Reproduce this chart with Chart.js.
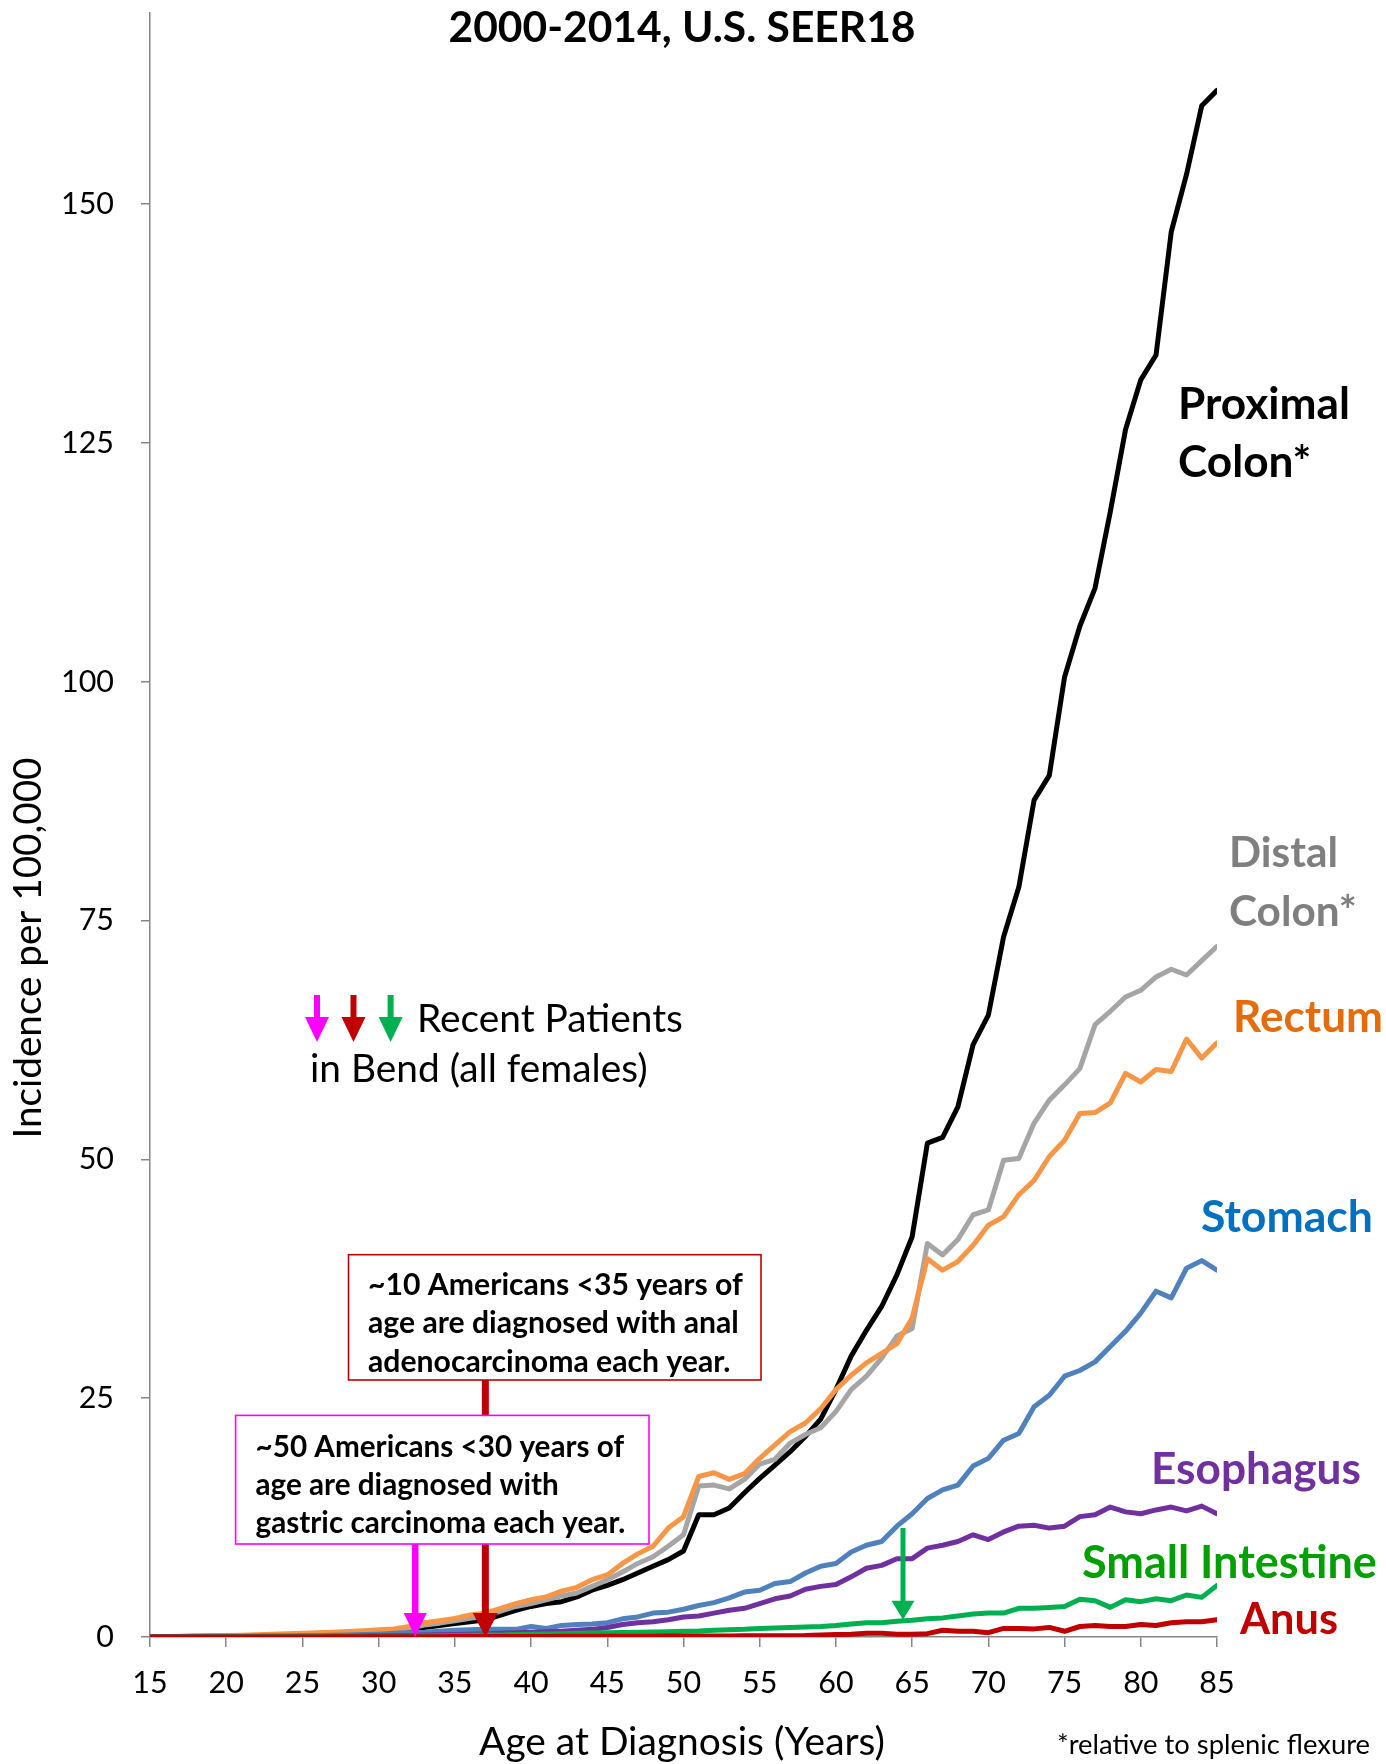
<!DOCTYPE html>
<html>
<head>
<meta charset="utf-8">
<script src="https://cdn.jsdelivr.net/npm/chart.js@4.4.1/dist/chart.umd.min.js"></script>
<style>
  html, body { margin: 0; padding: 0; background: #ffffff; }
  #wrap { width: 1386px; height: 1764px; }
</style>
</head>
<body>
<div id="wrap"><canvas id="c" width="1386" height="1764"></canvas></div>
<script>
// ---------------- DATA ----------------
const ages = [15,16,17,18,19,20,21,22,23,24,25,26,27,28,29,30,31,32,33,34,35,36,37,38,39,40,41,42,43,44,45,46,47,48,49,50,51,52,53,54,55,56,57,58,59,60,61,62,63,64,65,66,67,68,69,70,71,72,73,74,75,76,77,78,79,80,81,82,83,84,85];

const proximalColon = [0.05,0.05,0.06,0.07,0.08,0.1,0.12,0.14,0.17,0.2,0.23,0.27,0.32,0.38,0.45,0.55,0.7,0.85,1.0,1.2,1.4,1.6,1.8,2.3,2.8,3.2,3.5,3.7,4.2,4.9,5.4,6.0,6.7,7.4,8.1,9.0,12.8,12.8,13.5,15.1,16.6,18.0,19.4,21.0,22.8,25.9,29.4,32.1,34.6,37.9,41.9,51.7,52.3,55.5,62.0,65.1,73.3,78.5,87.6,90.2,100.5,105.8,109.8,117.8,126.4,131.6,134.2,147.1,153.1,160.3,161.9];

const distalColon = [0.04,0.05,0.06,0.07,0.09,0.11,0.13,0.16,0.2,0.24,0.28,0.33,0.38,0.45,0.52,0.6,0.75,0.95,1.25,1.45,1.7,1.95,2.2,2.7,3.2,3.5,3.9,4.3,4.6,5.3,6.0,6.8,7.7,8.4,9.5,10.7,15.8,15.9,15.5,16.5,18.1,18.6,20.3,21.2,21.9,23.6,25.9,27.3,29.2,31.5,32.3,41.2,40.0,41.6,44.2,44.7,49.9,50.1,53.8,56.2,57.8,59.5,64.1,65.5,67.0,67.7,69.1,69.9,69.3,70.8,72.3];

const rectum = [0.05,0.06,0.08,0.1,0.12,0.15,0.19,0.23,0.28,0.33,0.38,0.44,0.5,0.57,0.65,0.75,0.85,1.1,1.5,1.7,1.95,2.3,2.5,3.0,3.5,3.9,4.2,4.8,5.2,6.0,6.5,7.7,8.7,9.5,11.4,12.6,16.8,17.2,16.5,17.1,18.7,20.1,21.5,22.4,23.9,25.9,27.4,28.7,29.7,30.7,33.4,39.6,38.4,39.3,41.0,43.1,44.0,46.3,47.8,50.3,52.0,54.8,54.9,55.9,59.0,58.1,59.4,59.2,62.6,60.6,62.2];

const stomach = [0.03,0.04,0.05,0.06,0.07,0.08,0.09,0.1,0.12,0.13,0.15,0.17,0.19,0.22,0.25,0.3,0.38,0.45,0.5,0.6,0.7,0.75,0.8,0.8,0.8,1.1,0.9,1.2,1.3,1.35,1.5,1.9,2.1,2.5,2.6,2.9,3.3,3.6,4.1,4.7,4.9,5.6,5.8,6.7,7.4,7.7,8.9,9.6,10.0,11.6,12.9,14.5,15.4,15.9,17.9,18.7,20.6,21.3,24.1,25.3,27.3,27.9,28.8,30.4,32.0,33.9,36.2,35.5,38.6,39.4,38.4];

const esophagus = [0.01,0.01,0.01,0.01,0.02,0.02,0.02,0.03,0.03,0.04,0.05,0.06,0.07,0.08,0.1,0.12,0.14,0.17,0.2,0.23,0.27,0.3,0.35,0.4,0.45,0.5,0.55,0.6,0.7,0.8,1.0,1.3,1.5,1.6,1.8,2.1,2.2,2.5,2.8,3.0,3.5,4.0,4.3,5.0,5.3,5.5,6.3,7.2,7.5,8.2,8.2,9.3,9.6,10.0,10.7,10.2,11.0,11.6,11.7,11.4,11.6,12.6,12.8,13.6,13.1,12.9,13.3,13.6,13.2,13.7,12.9];

const smallIntestine = [0.01,0.01,0.01,0.01,0.02,0.02,0.02,0.02,0.03,0.03,0.03,0.03,0.04,0.04,0.05,0.05,0.06,0.08,0.1,0.12,0.15,0.18,0.2,0.22,0.25,0.3,0.32,0.35,0.38,0.42,0.45,0.48,0.5,0.53,0.56,0.6,0.62,0.7,0.75,0.8,0.9,0.95,1.0,1.05,1.1,1.2,1.35,1.5,1.5,1.65,1.75,1.9,2.0,2.2,2.4,2.5,2.5,3.0,3.0,3.1,3.2,3.95,3.8,3.1,3.9,3.7,4.0,3.8,4.4,4.15,5.4];

const anus = [0.0,0.0,0.0,0.0,0.0,0.0,0.01,0.01,0.01,0.01,0.01,0.01,0.02,0.02,0.02,0.02,0.02,0.03,0.03,0.03,0.04,0.04,0.05,0.05,0.05,0.06,0.06,0.07,0.07,0.08,0.08,0.08,0.09,0.09,0.1,0.1,0.1,0.11,0.11,0.12,0.12,0.13,0.14,0.15,0.2,0.25,0.3,0.4,0.4,0.3,0.3,0.35,0.7,0.6,0.6,0.45,0.9,0.9,0.85,1.0,0.6,1.1,1.2,1.1,1.1,1.3,1.2,1.5,1.6,1.6,1.8];

const seriesNames = ['Proximal Colon*', 'Distal Colon*', 'Rectum', 'Stomach', 'Esophagus', 'Small Intestine', 'Anus'];
const xTicks = [15,20,25,30,35,40,45,50,55,60,65,70,75,80,85];
const yTicks = [0,25,50,75,100,125,150];

// Patients in Bend (age at diagnosis, value at arrow tip)
const patientAges = [32.4, 37.0, 64.4];
const patientTipValues = [0, 0, 1.8];

// ---------------- STYLE / LAYOUT ----------------
const FONT = 'Lato';
const lineColors = ['#000000', '#A5A5A5', '#F79646', '#4F81BD', '#7030A0', '#00B050', '#C00000'];
const labelColors = ['#000000', '#7F7F7F', '#E46C0A', '#0070C0', '#7030A0', '#00A000', '#C00000'];
const drawOrder = [6, 5, 4, 3, 2, 1, 0];
const seriesValues = [proximalColon, distalColon, rectum, stomach, esophagus, smallIntestine, anus];

const mctx = document.createElement('canvas').getContext('2d');
function fitSize(text, weight, width) {
  mctx.font = weight + ' 100px ' + FONT;
  return 100 * width / mctx.measureText(text).width;
}

const tickSize = fitSize('100', 'normal', 53);

const seriesLabels = [
  { lines: ['Proximal', 'Colon*'], x: 1178, ys: [405, 463], w: 172 },
  { lines: ['Distal', 'Colon*'], x: 1229, ys: [853, 912], w: 109 },
  { lines: ['Rectum'], x: 1233, ys: [1018], w: 150 },
  { lines: ['Stomach'], x: 1201, ys: [1218], w: 172 },
  { lines: ['Esophagus'], x: 1151, ys: [1470], w: 210 },
  { lines: ['Small Intestine'], x: 1082, ys: [1563], w: 295 },
  { lines: ['Anus'], x: 1240, ys: [1620], w: 98 }
];

const annotationPlugin = {
  id: 'annot',
  afterDatasetsDraw(chart) {
    const ctx = chart.ctx;
    const xs = chart.scales.x, ys = chart.scales.y;

    function text(str, x, y, size, weight, color, align, rot) {
      ctx.save();
      ctx.font = weight + ' ' + size + 'px ' + FONT;
      ctx.fillStyle = color;
      ctx.textAlign = align || 'left';
      ctx.textBaseline = 'middle';
      ctx.translate(x, y);
      if (rot) ctx.rotate(rot);
      ctx.fillText(str, 0, 0);
      ctx.restore();
    }
    function arrow(x, yTop, yTip, color, shaftW, headW, headL) {
      ctx.save();
      ctx.fillStyle = color;
      ctx.fillRect(x - shaftW / 2, yTop, shaftW, (yTip - headL) - yTop + 1);
      ctx.beginPath();
      ctx.moveTo(x - headW / 2, yTip - headL);
      ctx.lineTo(x + headW / 2, yTip - headL);
      ctx.lineTo(x, yTip);
      ctx.closePath();
      ctx.fill();
      ctx.restore();
    }
    function box(l, t, r, b, color) {
      ctx.save();
      ctx.fillStyle = '#ffffff';
      ctx.fillRect(l, t, r - l, b - t);
      ctx.strokeStyle = color;
      ctx.lineWidth = 1.6;
      ctx.strokeRect(l, t, r - l, b - t);
      ctx.restore();
    }

    // Title and axis titles
    text('2000-2014, U.S. SEER18', 682, 28, fitSize('2000-2014, U.S. SEER18', 'bold', 467), 'bold', '#000', 'center');
    text('Incidence per 100,000', 29, 948, fitSize('Incidence per 100,000', 'normal', 381), 'normal', '#000', 'center', -Math.PI / 2);
    text('Age at Diagnosis (Years)', 682, 1742, fitSize('Age at Diagnosis (Years)', 'normal', 406), 'normal', '#000', 'center');
    text('*relative to splenic flexure', 1370, 1745, fitSize('*relative to splenic flexure', 'normal', 313), 'normal', '#000', 'right');

    // Series labels
    seriesLabels.forEach((lab, i) => {
      const size = fitSize(lab.lines[0], 'bold', lab.w);
      lab.lines.forEach((ln, k) => text(ln, lab.x, lab.ys[k], size, 'bold', labelColors[i], 'left'));
    });

    // Legend for recent patients
    const legSize = fitSize('Recent Patients', 'normal', 266);
    text('Recent Patients', 417, 1019, legSize, 'normal', '#000', 'left');
    text('in Bend (all females)', 310, 1069, legSize, 'normal', '#000', 'left');
    arrow(317, 995, 1042, '#FF00FF', 6, 24, 25);
    arrow(353.5, 995, 1042, '#C00000', 6, 24, 25);
    arrow(390.6, 995, 1042, '#00B050', 6, 24, 25);

    // Dark red (anal) box and arrow
    const xRed = xs.getPixelForValue(patientAges[1]);
    arrow(xRed, 1380, ys.getPixelForValue(patientTipValues[1]), '#C00000', 7, 25, 24);
    box(348.5, 1254.7, 761, 1380, '#C00000');
    const redSize = fitSize('age are diagnosed with anal', 'bold', 371);
    text('~10 Americans <35 years of', 368, 1285, redSize, 'bold', '#000');
    text('age are diagnosed with anal', 368, 1323, redSize, 'bold', '#000');
    text('adenocarcinoma each year.', 368, 1362, redSize, 'bold', '#000');

    // Magenta (gastric) box and arrow
    box(235.6, 1415.4, 649, 1544, '#FF00FF');
    const magSize = fitSize('gastric carcinoma each year.', 'bold', 370);
    text('~50 Americans <30 years of', 255.5, 1447, magSize, 'bold', '#000');
    text('age are diagnosed with', 255.5, 1485, magSize, 'bold', '#000');
    text('gastric carcinoma each year.', 255.5, 1523, magSize, 'bold', '#000');
    const xMag = xs.getPixelForValue(patientAges[0]);
    arrow(xMag, 1544, ys.getPixelForValue(patientTipValues[0]), '#FF00FF', 6.5, 23, 24);

    // Green (small intestine) arrow
    const xGreen = xs.getPixelForValue(patientAges[2]);
    arrow(xGreen, 1528, ys.getPixelForValue(patientTipValues[2]), '#00B050', 5, 23, 19);
  }
};

const datasets = seriesNames.map((name, i) => ({
  label: name,
  data: ages.map((a, k) => ({ x: a, y: seriesValues[i][k] })),
  borderColor: lineColors[i],
  backgroundColor: lineColors[i],
  borderWidth: 5,
  pointRadius: 0,
  tension: 0,
  fill: false,
  borderJoinStyle: 'round',
  borderCapStyle: 'round',
  order: drawOrder[i]
}));

const axisGray = '#868686';

new Chart(document.getElementById('c'), {
  type: 'line',
  data: { datasets },
  options: {
    responsive: false,
    animation: false,
    devicePixelRatio: 1,
    layout: { padding: { top: 13, right: 169, bottom: 0, left: 0 } },
    plugins: { legend: { display: false }, tooltip: { enabled: false }, title: { display: false } },
    scales: {
      x: {
        type: 'linear',
        min: xTicks[0],
        max: xTicks[xTicks.length - 1],
        afterBuildTicks: s => { s.ticks = xTicks.map(v => ({ value: v })); },
        ticks: { color: '#000', font: { family: FONT, size: tickSize }, padding: 18, maxRotation: 0, autoSkip: false },
        grid: { drawOnChartArea: false, drawTicks: true, tickLength: 10, color: axisGray, lineWidth: 1.5 },
        border: { display: true, color: axisGray, width: 1.5 },
        afterFit: s => { s.height = 127; }
      },
      y: {
        type: 'linear',
        min: 0,
        max: 170,
        afterBuildTicks: s => { s.ticks = yTicks.map(v => ({ value: v })); },
        ticks: { color: '#000', font: { family: FONT, size: tickSize }, padding: 27, autoSkip: false },
        grid: { drawOnChartArea: false, drawTicks: true, tickLength: 9, color: axisGray, lineWidth: 1.5 },
        border: { display: true, color: axisGray, width: 1.5 },
        afterFit: s => { s.width = 150; s.paddingTop = 0; s.paddingBottom = 0; }
      }
    }
  },
  plugins: [annotationPlugin]
});
</script>
</body>
</html>
